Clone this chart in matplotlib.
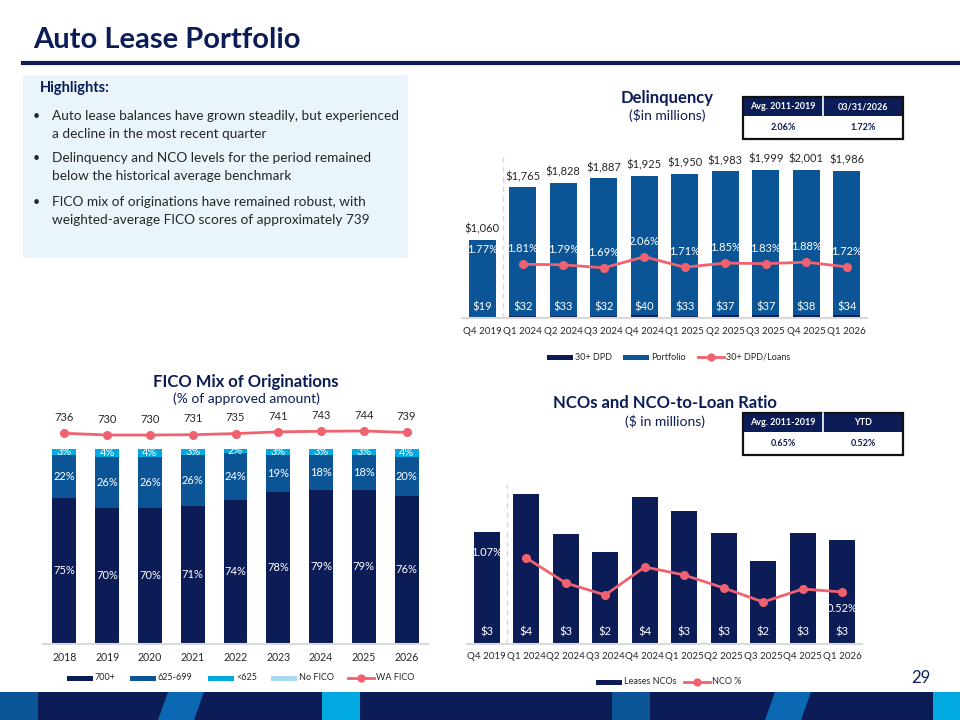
import numpy as np
import matplotlib.pyplot as plt
from matplotlib.patches import Rectangle, Polygon
from matplotlib.lines import Line2D

plt.rcParams['font.family'] = ['Lato', 'DejaVu Sans']

# --- data ---
quarters = ['Q4 2019', 'Q1 2024', 'Q2 2024', 'Q3 2024', 'Q4 2024',
            'Q1 2025', 'Q2 2025', 'Q3 2025', 'Q4 2025', 'Q1 2026']
portfolio = [1060, 1765, 1828, 1887, 1925, 1950, 1983, 1999, 2001, 1986]
dpd30 = [19, 32, 33, 32, 40, 33, 37, 37, 38, 34]
dpd_pct = [1.77, 1.81, 1.79, 1.69, 2.06, 1.71, 1.85, 1.83, 1.88, 1.72]

nco = [2.81, 3.74, 2.74, 2.29, 3.68, 3.33, 2.78, 2.08, 2.77, 2.61]
nco_pct = [1.07, 0.86, 0.61, 0.49, 0.77, 0.69, 0.56, 0.42, 0.55, 0.52]

years = ['2018', '2019', '2020', '2021', '2022', '2023', '2024', '2025', '2026']
fico_700 = [75, 70, 70, 71, 74, 78, 79, 79, 76]
fico_625 = [22, 26, 26, 26, 24, 19, 18, 18, 20]
fico_lt625 = [3, 4, 4, 3, 2, 3, 3, 3, 4]
fico_none = [0, 0, 0, 0, 0, 0, 0, 0, 0]
wa_fico = [736, 730, 730, 731, 735, 741, 743, 744, 739]

delinq_table = [['Avg. 2011-2019', '03/31/2026'], ['2.06%', '1.72%']]
nco_table = [['Avg. 2011-2019', 'YTD'], ['0.65%', '0.52%']]

bullets = [
    ['Auto lease balances have grown steadily, but experienced',
     'a decline in the most recent quarter'],
    ['Delinquency and NCO levels for the period remained',
     'below the historical average benchmark'],
    ['FICO mix of originations have remained robust, with',
     'weighted-average FICO scores of approximately 739'],
]

# --- colours ---
NAVY = '#0c1c56'
MID = '#0b5496'
BRIGHT = '#0b69b4'
CYAN = '#00a9e0'
LIGHT = '#a9d9f2'
RED = '#f0626f'
GRID = '#d9d9d9'
TXT = '#262626'

W, H = 960, 720
fig = plt.figure(figsize=(9.6, 7.2), dpi=100)


def fx(x):
    return x / W


def fy(y):
    return 1 - y / H


def put(x, y, s, **kw):
    fig.text(fx(x), fy(y), s, **kw)


def axes_px(left, right, top, bottom):
    return fig.add_axes([fx(left), fy(bottom), (right - left) / W, (bottom - top) / H])


def rect(x0, y0, x1, y1, **kw):
    fig.add_artist(Rectangle((fx(x0), fy(y1)), (x1 - x0) / W, (y1 - y0) / H,
                             transform=fig.transFigure, **kw))


def small_table(x0, y0, rows):
    x1, xm = x0 + 160, x0 + 80
    rect(x0, y0, x1, y0 + 19, facecolor=NAVY, edgecolor='none')
    rect(x0, y0, x1, y0 + 42, facecolor='none', edgecolor='#111111', lw=1.6)
    fig.add_artist(Line2D([fx(xm), fx(xm)], [fy(y0), fy(y0 + 19)], color='white',
                          lw=1.2, transform=fig.transFigure))
    for j, (h, v) in enumerate(zip(rows[0], rows[1])):
        cx = x0 + 40 + 80 * j
        put(cx, y0 + 9.5, h, color='white', fontsize=6.5, fontweight='bold',
            ha='center', va='center')
        put(cx, y0 + 31, v, color=NAVY, fontsize=6.5, fontweight='bold',
            ha='center', va='center')


def legend_patch(x, y, color, label):
    rect(x, y - 2.5, x + 26, y + 2.5, facecolor=color, edgecolor='none')
    put(x + 28, y, label, color=TXT, fontsize=6.5, va='center')


def legend_line(x, y, label):
    fig.add_artist(Line2D([fx(x), fx(x + 26)], [fy(y), fy(y)], color=RED, lw=2,
                          transform=fig.transFigure))
    fig.add_artist(Line2D([fx(x + 13)], [fy(y)], color=RED, marker='o', ms=5,
                          transform=fig.transFigure))
    put(x + 28, y, label, color=TXT, fontsize=6.5, va='center')


def style_axes(ax, labels, pad, size):
    for s in ['top', 'left', 'right']:
        ax.spines[s].set_visible(False)
    ax.spines['bottom'].set_color(GRID)
    ax.spines['bottom'].set_linewidth(1.5)
    ax.set_yticks([])
    ax.set_xticks(range(len(labels)))
    ax.set_xticklabels(labels, fontsize=size, color=TXT)
    ax.tick_params(axis='x', length=0, pad=pad)
    ax.set_xlim(-0.5, len(labels) - 0.5)


# --- header ---
put(33, 40, 'Auto Lease Portfolio', color=NAVY, fontsize=21, fontweight='bold',
    va='center')
fig.add_artist(Line2D([fx(23), fx(960)], [fy(63), fy(63)], color=NAVY, lw=3,
                      transform=fig.transFigure))

# --- highlights box ---
rect(23, 75, 408, 258, facecolor='#eaf5fb', edgecolor='none')
put(40, 88, 'Highlights:', color=NAVY, fontsize=10.5, fontweight='bold', va='center')
line_y = [[116, 133.5], [158.5, 176], [202, 220]]
for lines, ys in zip(bullets, line_y):
    put(33, ys[0], '•', color=TXT, fontsize=9, va='center')
    for s, y in zip(lines, ys):
        put(52, y, s, color=TXT, fontsize=9.8, va='center')

# --- delinquency chart ---
ax1 = axes_px(462, 867, 150, 318)
x = np.arange(len(quarters))
ax1.bar(x, dpd30, width=0.66, color=NAVY)
ax1.bar(x, np.array(portfolio) - np.array(dpd30), bottom=dpd30, width=0.66, color=MID)
ax1.set_ylim(0, 168 / 0.074)
style_axes(ax1, quarters, 6.3, 7.0)
ax1.vlines(0.5, 0, 2176, colors=GRID, linestyles=(0, (4, 3)), lw=1)
for i, (p, d) in enumerate(zip(portfolio, dpd30)):
    ax1.text(i, p + 70, f'${p:,}', ha='center', va='bottom', fontsize=8, color=TXT)
    ax1.text(i, 150, f'${d}', ha='center', va='center', fontsize=8, color='white')
ax1b = ax1.twinx()
ax1b.set_ylim(0, 168 / 29.7)
ax1b.axis('off')
ax1b.plot(x[1:], dpd_pct[1:], color=RED, lw=2, marker='o', ms=5.5)
for i, v in enumerate(dpd_pct):
    ax1b.text(i, v + 0.52, f'{v:.2f}%', ha='center', va='center', fontsize=8,
              color='white')

put(667, 98, 'Delinquency', color=NAVY, fontsize=12, fontweight='bold',
    ha='center', va='center')
put(667, 116, '($in millions)', color=NAVY, fontsize=10, ha='center', va='center')
small_table(743, 97, delinq_table)
legend_patch(547, 357, NAVY, '30+ DPD')
legend_patch(623, 357, MID, 'Portfolio')
legend_line(698, 357, '30+ DPD/Loans')

# --- FICO chart ---
ax2 = axes_px(43, 428, 400, 644)
xf = np.arange(len(years))
b1 = np.array(fico_700)
b2 = b1 + np.array(fico_625)
b3 = b2 + np.array(fico_lt625)
ax2.bar(xf, fico_700, width=0.56, color=NAVY)
ax2.bar(xf, fico_625, bottom=b1, width=0.56, color=MID)
ax2.bar(xf, fico_lt625, bottom=b2, width=0.56, color=CYAN)
ax2.bar(xf, fico_none, bottom=b3, width=0.56, color=LIGHT)
ax2.set_ylim(0, 244 / 1.95)
style_axes(ax2, years, 6, 7.6)
for i in range(len(years)):
    ax2.text(i, fico_700[i] / 2, f'{fico_700[i]}%', ha='center', va='center',
             fontsize=8, color='white')
    ax2.text(i, b1[i] + fico_625[i] / 2, f'{fico_625[i]}%', ha='center',
             va='center', fontsize=8, color='white')
    ax2.text(i, b2[i] + fico_lt625[i] / 2, f'{fico_lt625[i]}%', ha='center',
             va='center', fontsize=8, color='white')
ax2b = ax2.twinx()
ax2b.set_ylim(0, 244 / 0.2863)
ax2b.axis('off')
ax2b.plot(xf, wa_fico, color=RED, lw=2, marker='o', ms=5.5)
for i, v in enumerate(wa_fico):
    ax2b.text(i, v + 55, f'{v}', ha='center', va='center', fontsize=8, color=TXT)

put(246, 382, 'FICO Mix of Originations', color=NAVY, fontsize=12,
    fontweight='bold', ha='center', va='center')
put(246, 399, '(% of approved amount)', color=NAVY, fontsize=10, ha='center',
    va='center')
legend_patch(67, 678, NAVY, '700+')
legend_patch(130, 678, MID, '625-699')
legend_patch(208, 678, CYAN, '<625')
legend_patch(271, 678, LIGHT, 'No FICO')
legend_line(348, 678, 'WA FICO')

# --- NCO chart ---
ax3 = axes_px(467, 862, 470, 644)
ax3.bar(x, nco, width=0.66, color=NAVY)
ax3.set_ylim(0, 174 / 40)
style_axes(ax3, quarters, 5.9, 7.0)
ax3.vlines(0.5, 0, 4.0, colors=GRID, linestyles=(0, (4, 3)), lw=1)
for i, v in enumerate(nco):
    ax3.text(i, 0.3, f'${v:.0f}', ha='center', va='center', fontsize=8, color='white')
ax3b = ax3.twinx()
ax3b.set_ylim(0, 174 / 100)
ax3b.axis('off')
ax3b.plot(x[1:], nco_pct[1:], color=RED, lw=2, marker='o', ms=5.5)
for i in [0, len(nco_pct) - 1]:
    ax3b.text(i, nco_pct[i] - 0.16, f'{nco_pct[i]:.2f}%', ha='center',
              va='center', fontsize=8, color='white')

put(665, 403, 'NCOs and NCO-to-Loan Ratio', color=NAVY, fontsize=12,
    fontweight='bold', ha='center', va='center')
put(665, 422, '($ in millions)', color=NAVY, fontsize=10, ha='center', va='center')
small_table(743, 413, nco_table)
legend_patch(596, 682, NAVY, 'Leases NCOs')
legend_line(684, 682, 'NCO %')

put(921, 678, '29', color=NAVY, fontsize=12, ha='center', va='center')

# --- bottom band ---
rect(0, 692, 960, 720, facecolor=NAVY, edgecolor='none')
for x0, x1 in [(0, 38), (612, 650)]:
    rect(x0, 692, x1, 720, facecolor=MID, edgecolor='none')
for x0, x1 in [(322, 360), (933, 960)]:
    rect(x0, 692, x1, 720, facecolor=CYAN, edgecolor='none')
for x0 in [158, 765]:
    pts = [(fx(x0), fy(720)), (fx(x0 + 36), fy(720)),
           (fx(x0 + 46), fy(692)), (fx(x0 + 10), fy(692))]
    fig.add_artist(Polygon(pts, closed=True, facecolor=BRIGHT, edgecolor='none',
                           transform=fig.transFigure))

fig.savefig('out.png', dpi=100)
